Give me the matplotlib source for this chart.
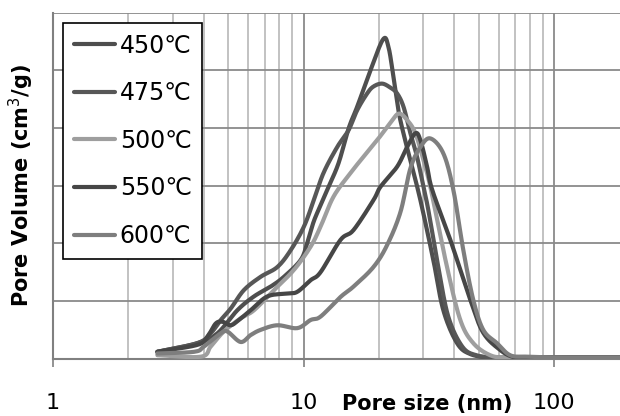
import matplotlib
matplotlib.use("Agg")
import numpy as np
import matplotlib.pyplot as plt
from matplotlib.ticker import LogLocator, NullFormatter, FixedLocator, FixedFormatter

# ---- data (pore size in nm, pore volume in arbitrary grid units) ----
labels = ["450℃", "475℃", "500℃", "550℃", "600℃"]
colors = ["#4e4e4e", "#575757", "#9e9e9e", "#464646", "#7e7e7e"]

x450 = [2.61, 3.77, 4.53, 5.44, 6.34, 7.39, 8.35, 9.73, 10.34, 10.96, 11.69, 12.58,
        13.79, 15.15, 16.37, 18.49, 20.78, 21.81, 22.84, 23.9, 25.03, 26.69, 29.26,
        32.96, 36.13, 40.98, 46.3, 55.6, 70.0, 100.0, 140.0, 183.0]
y450 = [0.12, 0.27, 0.44, 0.84, 1.08, 1.25, 1.42, 1.71, 2.00, 2.37, 2.66, 2.98,
        3.39, 4.00, 4.37, 5.00, 5.54, 5.41, 4.89, 4.31, 3.91, 3.44, 2.75,
        1.71, 0.84, 0.27, 0.08, 0.02, 0.02, 0.02, 0.02, 0.02]

x475 = [2.61, 3.77, 4.26, 4.67, 5.12, 5.78, 6.74, 7.86, 8.88, 10.03, 10.99, 12.01,
        13.62, 15.11, 16.37, 17.94, 19.01, 20.59, 22.22, 23.63, 25.05, 26.69, 28.38,
        30.08, 31.47, 34.5, 37.81, 43.0, 48.9, 58.7, 80.0, 120.0, 183.0]
y475 = [0.12, 0.27, 0.44, 0.67, 0.87, 1.19, 1.42, 1.59, 1.88, 2.29, 2.75, 3.22,
        3.67, 3.96, 4.31, 4.60, 4.72, 4.77, 4.70, 4.60, 4.37, 3.91, 3.50,
        2.98, 2.58, 1.59, 0.73, 0.21, 0.06, 0.02, 0.02, 0.02, 0.02]

x500 = [2.61, 3.89, 4.26, 4.80, 5.61, 6.34, 7.62, 9.15, 10.66, 11.69, 13.17, 15.39,
        17.34, 19.67, 22.22, 23.98, 25.89, 27.95, 30.08, 32.06, 37.37, 42.24, 47.57,
        55.59, 64.79, 90.0, 130.0, 183.0]
y500 = [0.06, 0.035, 0.21, 0.47, 0.70, 0.84, 1.19, 1.54, 1.94, 2.29, 2.81, 3.22,
        3.50, 3.79, 4.09, 4.25, 4.14, 3.91, 3.44, 2.98, 1.59, 0.67, 0.27,
        0.06, 0.02, 0.02, 0.02, 0.02]

x550 = [2.61, 3.77, 4.13, 4.46, 4.75, 5.12, 5.51, 6.15, 7.17, 8.61, 9.44, 10.66,
        11.69, 14.04, 15.82, 19.01, 20.27, 23.63, 25.89, 27.95, 29.26, 31.11, 32.66,
        38.53, 46.29, 52.14, 60.94, 68.64, 77.8, 110.0, 183.0]
y550 = [0.12, 0.24, 0.38, 0.61, 0.64, 0.58, 0.67, 0.84, 1.08, 1.13, 1.16, 1.36,
        1.50, 2.06, 2.23, 2.75, 2.98, 3.33, 3.67, 3.91, 3.79, 3.33, 2.92,
        2.06, 1.02, 0.45, 0.15, 0.03, 0.02, 0.02, 0.02]

x600 = [2.61, 3.66, 4.00, 4.67, 4.97, 5.61, 6.15, 6.74, 7.86, 9.44, 10.66, 11.69,
        14.04, 15.82, 19.01, 21.55, 24.35, 26.69, 29.26, 32.06, 36.13, 39.60, 43.42,
        47.57, 52.14, 59.11, 66.77, 77.84, 105.7, 183.0]
y600 = [0.09, 0.12, 0.21, 0.44, 0.47, 0.29, 0.41, 0.50, 0.58, 0.53, 0.67, 0.73,
        1.07, 1.25, 1.59, 1.97, 2.54, 3.30, 3.67, 3.82, 3.56, 2.93, 1.88,
        1.02, 0.50, 0.27, 0.06, 0.035, 0.02, 0.02]

xs = [x450, x475, x500, x550, x600]
ys = [y450, y475, y500, y550, y600]

major_ticks = [1, 10, 100]
major_labels = ["1", "10", "100"]


def smooth_line(x, y, n=16):
    """Excel-style smoothed line: Catmull-Rom spline through the points in log-x space."""
    lx = np.log10(np.asarray(x, float))
    yy = np.asarray(y, float)
    px = np.concatenate([[2 * lx[0] - lx[1]], lx, [2 * lx[-1] - lx[-2]]])
    py = np.concatenate([[2 * yy[0] - yy[1]], yy, [2 * yy[-1] - yy[-2]]])
    t = np.linspace(0, 1, n, endpoint=False)
    outx, outy = [], []
    for i in range(1, len(px) - 2):
        p0x, p1x, p2x, p3x = px[i - 1:i + 3]
        p0y, p1y, p2y, p3y = py[i - 1:i + 3]
        t2, t3 = t * t, t * t * t
        bx = 0.5 * (2 * p1x + (-p0x + p2x) * t + (2 * p0x - 5 * p1x + 4 * p2x - p3x) * t2
                    + (-p0x + 3 * p1x - 3 * p2x + p3x) * t3)
        by = 0.5 * (2 * p1y + (-p0y + p2y) * t + (2 * p0y - 5 * p1y + 4 * p2y - p3y) * t2
                    + (-p0y + 3 * p1y - 3 * p2y + p3y) * t3)
        outx.append(bx)
        outy.append(by)
    outx.append([lx[-1]])
    outy.append([yy[-1]])
    return 10 ** np.concatenate(outx), np.concatenate(outy)


# ---- figure ----
fig = plt.figure(figsize=(6.2, 4.16), dpi=100)
ax = fig.add_axes([53 / 620, (416 - 358.7) / 416, 1 - 53 / 620, (358.7 - 12.7) / 416])

for x, y, c, lab in zip(xs, ys, colors, labels):
    sx, sy = smooth_line(x, y)
    ax.plot(sx, sy, color=c, lw=3.0, label=lab, solid_capstyle="round",
            solid_joinstyle="round", zorder=3)

ax.set_xscale("log")
ax.set_xlim(1, 183.2)
ax.set_ylim(0, 6)

ax.xaxis.set_major_locator(FixedLocator(major_ticks))
ax.xaxis.set_major_formatter(FixedFormatter(major_labels))
ax.xaxis.set_minor_locator(LogLocator(base=10, subs=range(2, 10)))
ax.xaxis.set_minor_formatter(NullFormatter())
ax.set_yticks(range(0, 7))
ax.set_yticklabels([])
ax.tick_params(axis="y", length=0)
ax.tick_params(axis="x", which="major", length=6, width=1.2, color="#808080",
               pad=19, labelsize=16)
ax.tick_params(axis="x", which="minor", length=0)

ax.grid(True, axis="y", color="#8a8a8a", lw=1.3, zorder=0)
ax.grid(True, axis="x", which="major", color="#8a8a8a", lw=1.3, zorder=0)
ax.grid(True, axis="x", which="minor", color="#bdbdbd", lw=1.3, zorder=0)
ax.set_axisbelow(True)

for s in ["top", "right"]:
    ax.spines[s].set_visible(False)
for s in ["left", "bottom"]:
    ax.spines[s].set_color("#808080")
    ax.spines[s].set_linewidth(1.5)

ax.set_ylabel("Pore Volume (cm$^3$/g)", fontsize=15, fontweight="bold", va="center")
ax.yaxis.set_label_coords(-0.056, 0.5)
ax.set_xlabel("Pore size (nm)", fontsize=15, fontweight="bold", va="center")
ax.xaxis.set_label_coords(0.66, -0.132)

leg = ax.legend(loc="upper left", bbox_to_anchor=(0.0176, 0.9705), borderaxespad=0,
                fontsize=17, frameon=True, fancybox=False, framealpha=1,
                edgecolor="black", handlelength=1.75, handletextpad=0.2,
                labelspacing=1.0, borderpad=0.45)
leg.get_frame().set_linewidth(1.2)

fig.savefig("out.png", dpi=100)
